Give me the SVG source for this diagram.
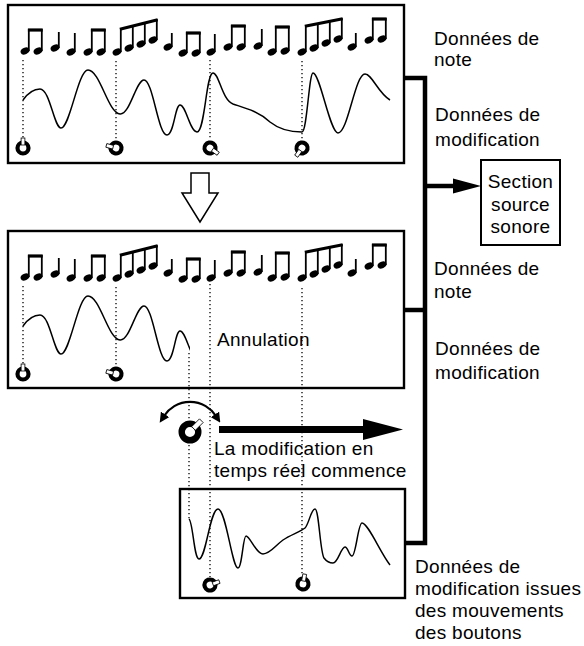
<svg xmlns="http://www.w3.org/2000/svg" xmlns:xlink="http://www.w3.org/1999/xlink" width="584" height="646" viewBox="0 0 584 646">
<style>
.box{fill:#fff;stroke:#000;stroke-width:2.4}
.wave{fill:none;stroke:#000;stroke-width:1.5}
.dot{fill:none;stroke:#000;stroke-width:1.3;stroke-dasharray:1.3 2.7}
.stem{stroke:#000;stroke-width:1.8}
.beam{stroke:#000;stroke-width:3.2}
.bus{fill:none;stroke:#000;stroke-width:4.5}
.lbl{font-family:"Liberation Sans",Arial,sans-serif;font-size:19px;fill:#000;letter-spacing:0.3px}
.ring{fill:#fff;stroke:#000;stroke-width:4.2}
.ptr{fill:#fff;stroke:#000;stroke-width:0.8}
</style>
<defs>
<ellipse id="h" rx="4.6" ry="3.2" transform="rotate(-25)" fill="#000"/>
<g id="knob"><circle r="5.5" class="ring"/><rect x="-1.9" y="-10" width="3.8" height="7" class="ptr"/></g>
<marker id="ah" viewBox="0 0 10 10" refX="2" refY="5" markerWidth="4.5" markerHeight="4.5" orient="auto-start-reverse"><path d="M0,0 L10,5 L0,10 z" fill="#000"/></marker>
<clipPath id="cut"><rect x="0" y="0" width="190" height="646"/></clipPath>
<path id="wave1" d="M23,100 C28,93 33,89 40,89 C50,89 54,128 61,128 C70,128 78,70 88,70 C100,70 108,113 120,114 C130,115 136,80 144,80 C153,80 158,135 167,135 C174,135 175,105 180,105 C186,105 190,132 197,132 C205,132 206,73 213,73 C219,73 222,100 233,104 C245,108 258,111 270,122 C280,130 293,132 302,132 C307,132 309,73 313,73 C320,73 330,133 338,133 C348,133 355,74 365,74 C372,74 378,93 390,100"/>
<g id="notes">
<use xlink:href="#h" x="25" y="51"/><use xlink:href="#h" x="38" y="51"/>
<line class="stem" x1="28.8" y1="51" x2="28.8" y2="29"/><line class="stem" x1="41.8" y1="51" x2="41.8" y2="29"/>
<line class="beam" x1="27.9" y1="30" x2="42.7" y2="30"/>
<use xlink:href="#h" x="55" y="48"/><line class="stem" x1="58.8" y1="48" x2="58.8" y2="32"/>
<use xlink:href="#h" x="71" y="52"/><line class="stem" x1="74.8" y1="52" x2="74.8" y2="33"/>
<use xlink:href="#h" x="88" y="52"/><use xlink:href="#h" x="101" y="52"/>
<line class="stem" x1="91.8" y1="52" x2="91.8" y2="29"/><line class="stem" x1="104.8" y1="52" x2="104.8" y2="29"/>
<line class="beam" x1="90.9" y1="30" x2="105.7" y2="30"/>
<use xlink:href="#h" x="117" y="52"/><use xlink:href="#h" x="129" y="48"/><use xlink:href="#h" x="141" y="44"/><use xlink:href="#h" x="153" y="40"/>
<line class="stem" x1="120.8" y1="52" x2="120.8" y2="28"/><line class="stem" x1="132.8" y1="48" x2="132.8" y2="25"/><line class="stem" x1="144.8" y1="44" x2="144.8" y2="22"/><line class="stem" x1="156.8" y1="40" x2="156.8" y2="19"/>
<line class="beam" x1="119.9" y1="29.2" x2="157.7" y2="19.8"/>
<use xlink:href="#h" x="168" y="47"/><line class="stem" x1="171.8" y1="47" x2="171.8" y2="33"/>
<use xlink:href="#h" x="183" y="53"/><use xlink:href="#h" x="196" y="53"/>
<line class="stem" x1="186.8" y1="53" x2="186.8" y2="32"/><line class="stem" x1="199.8" y1="53" x2="199.8" y2="32"/>
<line class="beam" x1="185.9" y1="33" x2="200.7" y2="33"/>
<use xlink:href="#h" x="211" y="52"/><line class="stem" x1="214.8" y1="52" x2="214.8" y2="34"/>
<use xlink:href="#h" x="228" y="47"/><use xlink:href="#h" x="241" y="47"/>
<line class="stem" x1="231.8" y1="47" x2="231.8" y2="25"/><line class="stem" x1="244.8" y1="47" x2="244.8" y2="25"/>
<line class="beam" x1="230.9" y1="26" x2="245.7" y2="26"/>
<use xlink:href="#h" x="258" y="46"/><line class="stem" x1="261.8" y1="46" x2="261.8" y2="29"/>
<use xlink:href="#h" x="272" y="52"/><use xlink:href="#h" x="285" y="51"/>
<line class="stem" x1="275.8" y1="52" x2="275.8" y2="26"/><line class="stem" x1="288.8" y1="51" x2="288.8" y2="26"/>
<line class="beam" x1="274.9" y1="27" x2="289.7" y2="27"/>
<use xlink:href="#h" x="302" y="52"/><use xlink:href="#h" x="314" y="48"/><use xlink:href="#h" x="326" y="43"/><use xlink:href="#h" x="338" y="39"/>
<line class="stem" x1="305.8" y1="52" x2="305.8" y2="25"/><line class="stem" x1="317.8" y1="48" x2="317.8" y2="23"/><line class="stem" x1="329.8" y1="43" x2="329.8" y2="20"/><line class="stem" x1="341.8" y1="39" x2="341.8" y2="18"/>
<line class="beam" x1="304.9" y1="26.2" x2="342.7" y2="18.8"/>
<use xlink:href="#h" x="352" y="47"/><line class="stem" x1="355.8" y1="47" x2="355.8" y2="33"/>
<use xlink:href="#h" x="369" y="40"/><use xlink:href="#h" x="382" y="39"/>
<line class="stem" x1="372.8" y1="40" x2="372.8" y2="18"/><line class="stem" x1="385.8" y1="39" x2="385.8" y2="18"/>
<line class="beam" x1="371.9" y1="19" x2="386.7" y2="19"/>
</g>
</defs>

<g id="connectors">
<path class="bus" d="M404,78 H425 V543 H405"/>
<path class="bus" d="M404,310 H425"/>
<path class="bus" d="M425,186 H456"/>
<polygon points="453,178.5 481,186 453,193.5" fill="#000"/>
<polygon id="down-arrow" points="191,173 209,173 209,193 218,193 200,222 182,193 191,193" fill="#fff" stroke="#000" stroke-width="1.5"/>
<rect x="219" y="426" width="146" height="7" fill="#000"/>
<polygon points="363,419 403,429.5 363,440" fill="#000"/>
</g>

<g id="panel-top">
<rect class="box" x="8" y="5" width="396" height="158"/>
<use xlink:href="#notes"/>
<use xlink:href="#wave1" class="wave"/>
<line class="dot" x1="23" y1="60" x2="23" y2="140"/>
<line class="dot" x1="116" y1="61" x2="116" y2="141"/>
<line class="dot" x1="210" y1="60" x2="210" y2="140"/>
<line class="dot" x1="302" y1="61" x2="302" y2="140"/>
<use xlink:href="#knob" transform="translate(23,148)"/>
<use xlink:href="#knob" transform="translate(116,148) rotate(-75)"/>
<use xlink:href="#knob" transform="translate(210,148) rotate(125)"/>
<use xlink:href="#knob" transform="translate(302,148) rotate(215)"/>
</g>

<g id="panel-middle">
<rect class="box" x="8" y="231" width="396" height="157"/>
<use xlink:href="#notes" transform="translate(0,226)"/>
<g clip-path="url(#cut)"><use xlink:href="#wave1" class="wave" transform="translate(0,226)"/></g>
<line class="dot" x1="23" y1="286" x2="23" y2="366"/>
<line class="dot" x1="116" y1="287" x2="116" y2="366"/>
<text class="lbl" x="217" y="346">Annulation</text>
<use xlink:href="#knob" transform="translate(23,374)"/>
<use xlink:href="#knob" transform="translate(116,374) rotate(-75)"/>
</g>

<g id="panel-bottom">
<rect class="box" x="180" y="489" width="225" height="109"/>
<path class="wave" d="M189,519 C193,522 194,559 199,559 C206,559 210,509 218,509 C226,509 232,568 238,568 C242,568 243,536 246,536 C250,536 256,554 263,554 C270,554 276,545 283,540 C290,535 300,532 305,528 C309,524 311,509 315,509 C319,509 320,552 324,558 C327,562 330,563 333,563 C338,563 341,547 345,547 C348,547 349,556 352,556 C356,556 358,523 362,523 C368,523 380,552 390,565"/>
</g>

<g id="guides">
<line class="dot" x1="189" y1="353" x2="189" y2="519"/>
<line class="dot" x1="210" y1="284" x2="210" y2="577"/>
<line class="dot" x1="302" y1="288" x2="302" y2="576"/>
</g>

<g id="bottom-knobs">
<use xlink:href="#knob" transform="translate(210,585) rotate(70)"/>
<use xlink:href="#knob" transform="translate(303,584) rotate(10)"/>
</g>

<g id="knob-big">
<path d="M164,416 A31,31 0 0 1 216,416" fill="none" stroke="#000" stroke-width="2.2" marker-start="url(#ah)" marker-end="url(#ah)"/>
<circle cx="190" cy="432" r="8.3" fill="#fff" stroke="#000" stroke-width="6.4"/>
<rect x="-2.6" y="-16" width="5.2" height="11" class="ptr" transform="translate(190,432) rotate(45)"/>
</g>

<g id="realtime-label">
<text class="lbl" x="214" y="455">La modification en</text>
<text class="lbl" x="214" y="477">temps réel commence</text>
</g>

<g id="sound-source">
<rect x="481" y="160" width="79" height="85" fill="#fff" stroke="#000" stroke-width="2"/>
<text class="lbl" x="520.5" y="188" text-anchor="middle">Section</text>
<text class="lbl" x="520.5" y="211" text-anchor="middle">source</text>
<text class="lbl" x="520.5" y="233" text-anchor="middle">sonore</text>
</g>

<g id="labels">
<text class="lbl" x="434" y="45">Données de</text>
<text class="lbl" x="434" y="66">note</text>
<text class="lbl" x="435" y="121">Données de</text>
<text class="lbl" x="435" y="146">modification</text>
<text class="lbl" x="434" y="275">Données de</text>
<text class="lbl" x="434" y="298">note</text>
<text class="lbl" x="435" y="355">Données de</text>
<text class="lbl" x="435" y="379">modification</text>
<text class="lbl" x="415" y="573">Données de</text>
<text class="lbl" x="415" y="595">modification issues</text>
<text class="lbl" x="415" y="617">des mouvements</text>
<text class="lbl" x="415" y="639">des boutons</text>
</g>
</svg>
